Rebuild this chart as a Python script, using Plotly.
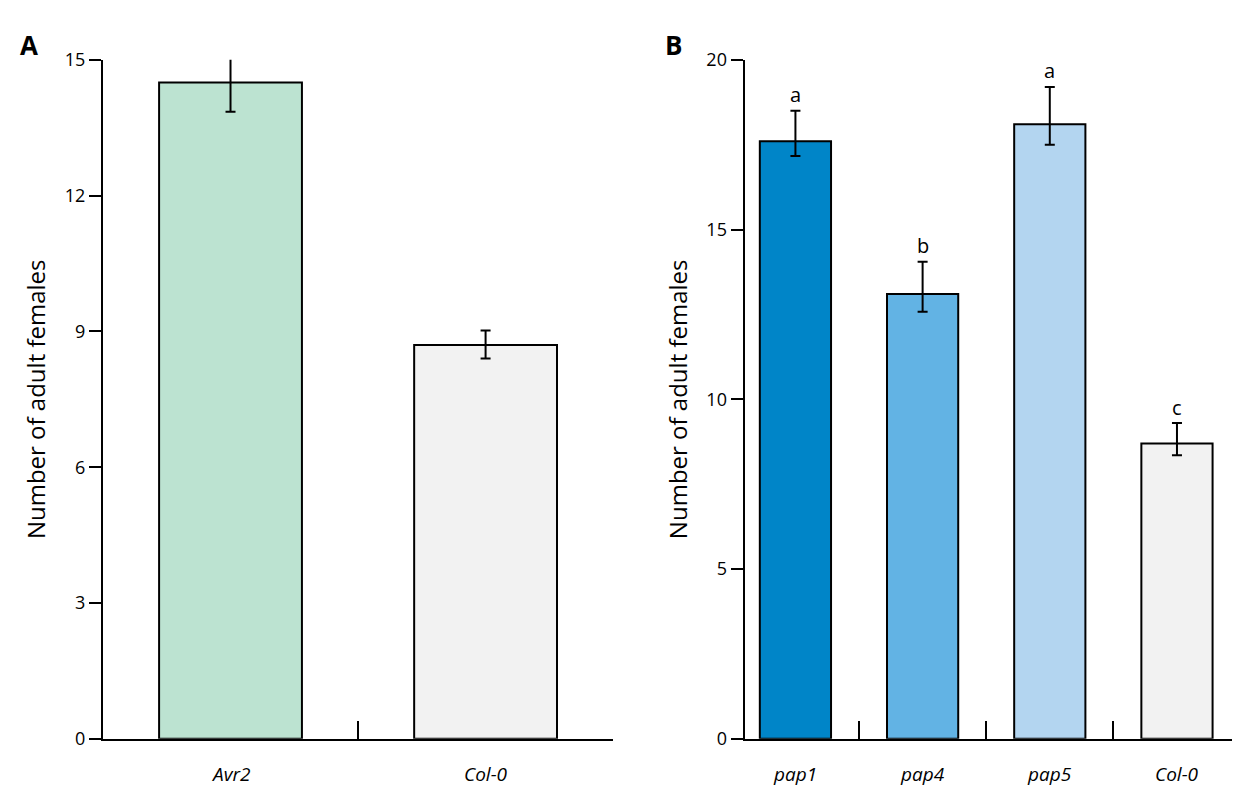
import plotly.graph_objects as go

# panel A
cats_a = ['Avr2', 'Col-0']
mean_a = [14.5, 8.7]
err_up_a = [0.63, 0.32]
err_dn_a = [0.65, 0.3]
colors_a = ['#bce3d1', '#f2f2f2']
marks_a = ['*', '']

# panel B
cats_b = ['pap1', 'pap4', 'pap5', 'Col-0']
mean_b = [17.6, 13.1, 18.1, 8.7]
err_up_b = [0.9, 0.95, 1.1, 0.6]
err_dn_b = [0.43, 0.52, 0.6, 0.35]
colors_b = ['#0085c8', '#62b3e4', '#b3d5f0', '#f2f2f2']
marks_b = ['a', 'b', 'a', 'c']

fnt = 'Open Sans, Noto Sans, sans-serif'
fig = go.Figure()

fig.add_trace(go.Bar(x=list(range(len(cats_a))), y=mean_a, width=0.56,
                     marker=dict(color=colors_a, line=dict(color='black', width=2)),
                     error_y=dict(type='data', array=err_up_a, arrayminus=err_dn_a,
                                  color='black', thickness=2, width=5),
                     xaxis='x', yaxis='y', showlegend=False))
fig.add_trace(go.Bar(x=list(range(len(cats_b))), y=mean_b, width=0.56,
                     marker=dict(color=colors_b, line=dict(color='black', width=2)),
                     error_y=dict(type='data', array=err_up_b, arrayminus=err_dn_b,
                                  color='black', thickness=2, width=5),
                     xaxis='x2', yaxis='y2', showlegend=False))

ann = []
for i, c in enumerate(cats_a):
    ann.append(dict(x=i, y=0, xref='x', yref='y', text='<i>%s</i>' % c, showarrow=False,
                    yshift=-35, font=dict(size=19)))
    if marks_a[i]:
        ann.append(dict(x=i, y=mean_a[i] + err_up_a[i], xref='x', yref='y', text=marks_a[i],
                        showarrow=False, yshift=16, font=dict(size=22)))
for i, c in enumerate(cats_b):
    ann.append(dict(x=i, y=0, xref='x2', yref='y2', text='<i>%s</i>' % c, showarrow=False,
                    yshift=-35, font=dict(size=19)))
    ann.append(dict(x=i, y=mean_b[i] + err_up_b[i], xref='x2', yref='y2', text=marks_b[i],
                    showarrow=False, yshift=16, font=dict(size=20)))
ann.append(dict(x=0.008, y=0.995, xref='paper', yref='paper', text='<b>A</b>', showarrow=False,
                xanchor='left', yanchor='top', font=dict(size=26)))
ann.append(dict(x=0.528, y=0.995, xref='paper', yref='paper', text='<b>B</b>', showarrow=False,
                xanchor='left', yanchor='top', font=dict(size=26)))

xcommon = dict(showline=True, linecolor='black', linewidth=2, ticks='inside', ticklen=18,
               tickwidth=2, tickcolor='black', showticklabels=False, showgrid=False, zeroline=False)
ycommon = dict(showline=True, linecolor='black', linewidth=2, ticks='outside', ticklen=12,
               tickwidth=2, tickcolor='black', showgrid=False, zeroline=False,
               tickfont=dict(size=18), title=dict(text='Number of adult females', font=dict(size=24), standoff=12))

fig.update_layout(
    width=1240, height=800, margin=dict(l=0, r=0, t=0, b=0),
    plot_bgcolor='white', paper_bgcolor='white', font=dict(family=fnt, color='black'),
    xaxis=dict(domain=[0.0766, 0.488], range=[-0.5, 1.5], tickvals=[0.5], anchor='y', **xcommon),
    yaxis=dict(domain=[0.075, 0.95], range=[0, 15], tickvals=[0, 3, 6, 9, 12, 15], anchor='x', **ycommon),
    xaxis2=dict(domain=[0.594, 0.994], range=[-0.4, 3.5], tickvals=[0.5, 1.5, 2.5], anchor='y2', **xcommon),
    yaxis2=dict(domain=[0.075, 0.95], range=[0, 20], tickvals=[0, 5, 10, 15, 20], anchor='x2', **ycommon),
    annotations=ann,
)

fig.write_html('out.html')
